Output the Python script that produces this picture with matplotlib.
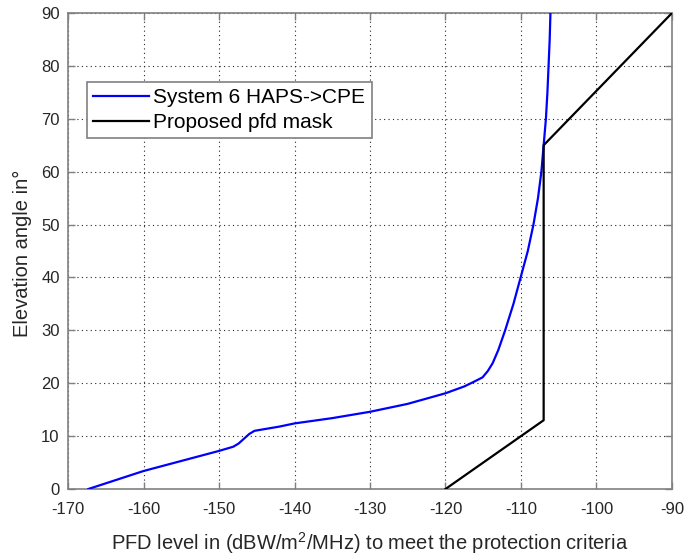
import matplotlib
matplotlib.use("Agg")
import matplotlib.pyplot as plt

plt.rcParams['font.family'] = ['Liberation Sans', 'DejaVu Sans']
plt.rcParams['mathtext.fontset'] = 'custom'
plt.rcParams['mathtext.rm'] = 'Liberation Sans'
plt.rcParams['axes.unicode_minus'] = False

# System 6 HAPS->CPE: PFD needed to meet the protection criteria vs elevation
haps_pfd = [-167.3, -160.0, -155.0, -150.0, -148.1, -147.4, -146.7, -146.0,
            -145.3, -142.0, -140.0, -135.0, -130.0, -125.0, -120.0, -117.5,
            -116.2, -115.1, -114.4, -113.75, -113.0, -112.1, -111.0, -110.05,
            -109.1, -108.35, -107.75, -107.3, -107.0, -106.7, -106.5, -106.35,
            -106.2, -106.1]
haps_elev = [0.0, 3.4, 5.3, 7.2, 8.0, 8.6, 9.5, 10.4,
             11.0, 11.8, 12.4, 13.4, 14.6, 16.1, 18.1, 19.4,
             20.3, 21.1, 22.3, 23.8, 26.3, 30.0, 35.0, 40.0,
             45.0, 50.0, 55.0, 60.0, 65.0, 70.0, 75.0, 80.0,
             85.0, 90.0]

# Proposed pfd mask
mask_pfd = [-120.0, -107.0, -107.0, -90.0]
mask_elev = [0.0, 13.0, 65.0, 90.0]

x_ticks = [-170, -160, -150, -140, -130, -120, -110, -100, -90]
y_ticks = [0, 10, 20, 30, 40, 50, 60, 70, 80, 90]

fig = plt.figure(figsize=(6.87, 5.60), dpi=100)
ax = fig.add_axes([68 / 687, 71 / 560, 604 / 687, 476 / 560])

ax.plot(haps_pfd, haps_elev, color='#0000ff', lw=1.6,
        label='System 6 HAPS->CPE', zorder=3)
ax.plot(mask_pfd, mask_elev, color='black', lw=1.6,
        label='Proposed pfd mask', zorder=3)

ax.set_xlim(-170, -90)
ax.set_ylim(0, 90)
ax.set_xticks(x_ticks)
ax.set_yticks(y_ticks)

ax.grid(True, linestyle=(0, (1, 3)), color='#262626', linewidth=0.8)
ax.tick_params(direction='in', length=5, width=1, colors='#808080',
               labelcolor='#262626', labelsize=12, top=True, right=True)
ax.tick_params(axis='x', pad=9)
ax.tick_params(axis='y', pad=6)
for s in ax.spines.values():
    s.set_color('#808080')
    s.set_linewidth(1.2)

ax.set_xlabel('PFD level in (dBW/m$^2$/MHz) to meet the protection criteria',
              fontsize=14.5, color='#262626', va='baseline')
ax.xaxis.set_label_coords(0.5, (489 - 550) / 476)
ax.set_ylabel('Elevation angle in°', fontsize=14.5, color='#262626')
ax.yaxis.set_label_coords((32 - 68) / 604, 0.495)

leg = ax.legend(loc='upper left', bbox_to_anchor=(0.031, 0.856),
                borderaxespad=0, fontsize=15, frameon=True, fancybox=False,
                handlelength=2.7, handletextpad=0.2, borderpad=0.3,
                labelspacing=0.3)
leg.get_frame().set_edgecolor('#808080')
leg.get_frame().set_linewidth(1.2)
leg.get_frame().set_alpha(1)

fig.savefig('out.png', dpi=100)
